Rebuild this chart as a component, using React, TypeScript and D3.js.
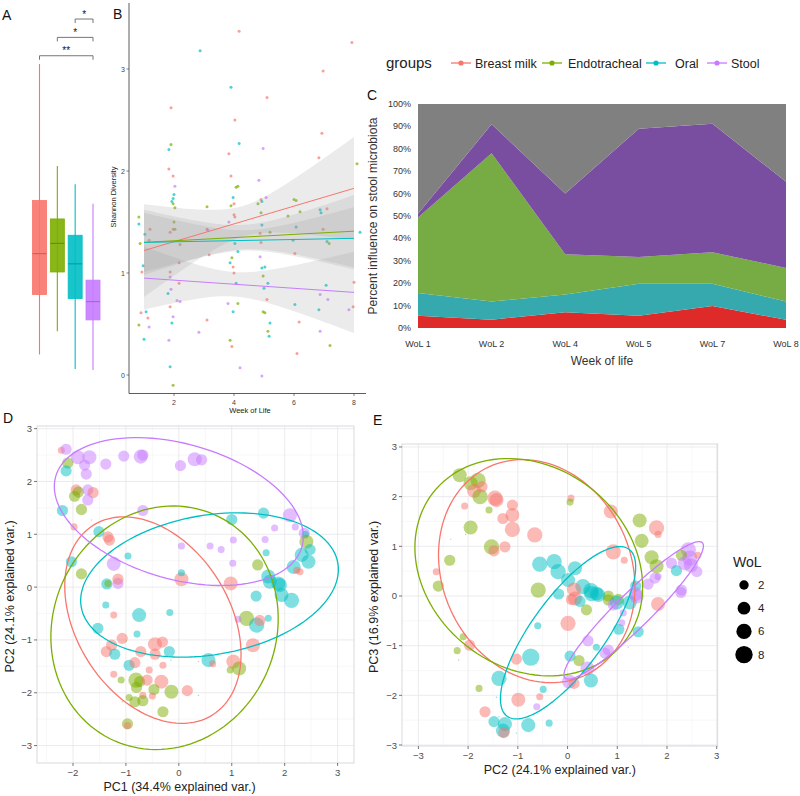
import React from 'react';
import * as d3 from 'd3';

// ---------- shared ----------
const groups = ['Breast milk', 'Endotracheal', 'Oral', 'Stool'];
const groupColors = ['#F8766D', '#7CAE00', '#00BFC4', '#C77CFF'];

// ---------- Panel A: Shannon diversity boxplots ----------
const boxLow = [0.2, 0.43, 0.06, 0.05];
const boxQ1 = [0.79, 1.01, 0.75, 0.54];
const boxMedian = [1.19, 1.29, 1.09, 0.72];
const boxQ3 = [1.71, 1.53, 1.37, 0.93];
const boxHigh = [3.05, 2.05, 1.87, 1.68];
// brackets: [fromGroup, toGroup, level, label]
const sigBrackets: [number, number, number, string][] = [
  [2, 3, 3.49, '*'],
  [1, 3, 3.31, '*'],
  [0, 3, 3.13, '**'],
];

// ---------- Panel B: Shannon diversity vs week of life ----------
// [week (jittered), shannon, group]
const shannonPoints: [number, number, number][] = [
  [0.83, 1.55, 1], [0.83, 1.48, 2], [1.2, 1.43, 0], [0.87, 1.29, 1], [1.03, 1.38, 2], [1.17, 1.32, 0],
  [0.97, 1.07, 2], [0.93, 1.01, 0], [0.9, 0.61, 0], [1.07, 0.62, 2], [1.13, 0.56, 0], [0.83, 0.49, 1],
  [1.17, 0.47, 3], [1.0, 0.35, 2],
  [1.9, 2.62, 0], [1.9, 2.26, 1], [1.83, 2.21, 2], [1.83, 2.02, 0], [1.97, 1.95, 0], [2.03, 1.85, 3],
  [2.0, 1.77, 2], [1.97, 1.73, 2], [1.93, 1.7, 2], [1.97, 1.68, 1], [2.03, 1.64, 1], [2.0, 1.5, 1],
  [1.87, 1.4, 0], [1.97, 1.43, 0], [2.17, 1.1, 0], [1.87, 1.01, 0], [1.87, 0.96, 3], [1.8, 0.8, 2],
  [1.9, 0.84, 3], [2.1, 0.73, 3], [2.2, 0.72, 3], [1.87, 0.67, 0], [1.97, 0.57, 3], [1.93, 0.51, 2],
  [1.83, 0.34, 3], [1.87, 0.08, 2], [1.97, -0.1, 1], [2.17, 0.9, 0], [2.2, 1.28, 0], [2.03, 1.43, 1],
  [2.87, 3.18, 2], [3.1, 1.43, 0], [3.17, 1.18, 0], [2.83, 0.42, 3], [3.1, 0.54, 0], [3.13, 1.42, 3], [3.1, 1.65, 1],
  [4.17, 3.37, 0], [3.9, 2.82, 2], [4.03, 2.5, 0], [4.17, 2.27, 2], [3.83, 2.17, 0], [3.9, 1.95, 0],
  [4.07, 1.84, 1], [4.13, 1.85, 1], [3.97, 1.74, 2], [4.0, 1.68, 0], [3.9, 1.66, 1], [4.0, 1.57, 0],
  [4.03, 1.55, 0], [3.83, 1.5, 3], [4.03, 1.29, 2], [4.13, 1.21, 2], [3.87, 1.1, 2], [3.93, 1.15, 1],
  [3.97, 1.06, 0], [4.0, 1.0, 0], [4.07, 0.9, 2], [3.8, 0.7, 3], [4.13, 0.7, 1], [3.97, 0.62, 2],
  [3.87, 0.34, 1], [3.93, 0.28, 0], [4.2, 0.07, 3],
  [5.1, 2.72, 0], [4.97, 2.22, 3], [4.83, 1.91, 3], [4.9, 1.72, 0], [4.93, 1.7, 2], [5.07, 1.74, 3],
  [4.8, 1.68, 1], [4.9, 1.59, 1], [4.93, 1.47, 2], [4.87, 1.39, 0], [5.2, 1.4, 1], [4.9, 1.3, 0],
  [4.87, 1.16, 3], [4.93, 1.05, 2], [5.03, 1.06, 2], [4.97, 0.97, 1], [5.13, 0.9, 2], [5.0, 0.85, 2],
  [5.1, 0.74, 0], [4.97, 0.62, 1], [5.03, 0.61, 1], [5.2, 0.51, 2], [5.13, 0.43, 1], [5.17, 0.38, 2],
  [4.93, -0.01, 3],
  [5.8, 1.56, 1], [6.0, 1.72, 1], [6.07, 1.71, 1], [6.2, 1.6, 1], [6.07, 1.45, 2], [5.97, 1.32, 2],
  [6.03, 1.19, 0], [6.03, 0.69, 2], [6.17, 0.52, 0], [6.1, 0.21, 0],
  [6.97, 2.98, 0], [6.93, 2.37, 0], [6.83, 2.13, 0], [6.87, 1.62, 2], [6.9, 1.59, 2], [7.1, 1.63, 0],
  [6.97, 1.43, 0], [7.1, 1.31, 2], [7.17, 1.29, 1], [7.07, 0.88, 2], [6.87, 0.79, 3], [7.13, 0.74, 3],
  [6.83, 0.64, 2], [6.87, 0.43, 3], [7.2, 0.29, 1],
  [7.93, 3.26, 0], [8.1, 2.07, 1], [8.2, 1.4, 2], [8.0, 0.91, 0], [7.97, 0.67, 0], [7.83, 0.64, 3],
];
// linear fits per group (value at week 1 and week 8) and CI half-width model
const fitAtWeek1 = [1.22, 1.3, 1.3, 0.95];
const fitAtWeek8 = [1.83, 1.41, 1.34, 0.81];
const ciMinHalf = [0.15, 0.12, 0.1, 0.12];
const ciSlope = [0.13, 0.09, 0.08, 0.095];
const ciCenter = [4.3, 4.3, 4.4, 4.0];
const shannonTicks = [0, 1, 2, 3];
const weekTicks = [2, 4, 6, 8];

// ---------- Panel C: source influence on stool microbiota ----------
const wolCategories = ['WoL 1', 'WoL 2', 'WoL 4', 'WoL 5', 'WoL 7', 'WoL 8'];
const breastMilkShare = [5.5, 3.7, 7.0, 5.5, 9.8, 3.7];
const oralShare = [10.1, 8.1, 7.9, 14.3, 10.0, 8.1];
const endotrachealShare = [33.7, 66.2, 18.0, 11.9, 14.0, 15.0];
const stoolShare = [1.7, 13.0, 27.1, 57.3, 57.4, 38.5];
const unknownShare = [49.0, 9.0, 40.0, 11.0, 8.8, 34.7];
const areaKeys = ['breast', 'oral', 'endo', 'stool', 'unknown'];
const areaColors = ['#df2a2a', '#36a9ae', '#77ab43', '#794ea0', '#808080'];
const percentTicks = d3.range(0, 101, 10);

// ---------- Panel D: PC1 vs PC2 ----------
// [PC1, PC2, WoL, group]
const pcaD: [number, number, number, number][] = [
  [-2.22, 2.59, 1, 0], [-2.13, 2.61, 3, 3], [-2.1, 2.35, 3, 1], [-2.13, 2.2, 3, 2], [-1.91, 2.46, 5, 3],
  [-1.69, 2.46, 5, 3], [-1.78, 2.31, 3, 3], [-1.75, 2.14, 3, 3], [-1.38, 2.33, 3, 3], [-1.04, 2.48, 3, 3],
  [-0.72, 2.47, 5, 3], [-0.68, 2.5, 3, 3], [0.03, 2.3, 3, 3], [0.3, 2.42, 5, 3], [0.43, 2.41, 3, 3],
  [-1.94, 1.84, 3, 0], [-1.9, 1.8, 3, 1], [-1.97, 1.72, 3, 1], [-1.72, 1.84, 3, 3], [-1.62, 1.79, 3, 0],
  [-1.72, 1.65, 3, 3], [-1.84, 1.47, 3, 1], [-2.2, 1.45, 3, 2], [-1.65, 1.27, 0, 3], [-1.98, 1.14, 1, 0],
  [-1.51, 1.05, 3, 2], [-1.34, 0.95, 3, 0], [-1.31, 0.89, 3, 0], [-0.68, 1.45, 3, 3], [-0.96, 0.59, 1, 2],
  [-2.03, 0.48, 3, 2], [-1.23, 0.44, 5, 3], [-1.84, 0.25, 3, 1], [-1.36, 0.06, 3, 2], [-1.34, 0.07, 1, 1],
  [-1.15, 0.07, 3, 3], [-1.15, 0.15, 3, 0], [0.05, 0.15, 5, 0], [0.05, 0.27, 1, 2], [0.05, 0.78, 1, 3],
  [0.59, 0.78, 1, 3], [0.8, 0.71, 1, 3], [1.0, 1.28, 3, 2], [1.03, 0.89, 1, 3], [1.02, 0.45, 1, 3],
  [0.98, 0.07, 5, 0], [1.49, 0.42, 3, 1], [1.6, 1.4, 3, 2], [1.63, 0.9, 1, 3], [1.65, 0.65, 1, 2],
  [1.81, 1.12, 1, 3], [1.69, 0.2, 5, 2], [2.1, 1.36, 5, 3], [2.2, 1.14, 1, 3], [2.37, 1.02, 3, 3],
  [2.39, 1.0, 1, 2], [2.41, 0.86, 5, 1], [2.48, 0.71, 3, 2], [2.32, 0.61, 5, 2], [2.45, 0.48, 5, 2],
  [2.17, 0.38, 5, 2], [2.29, 0.29, 1, 0], [2.23, 0.32, 1, 0], [1.88, 0.07, 5, 2], [1.72, 0.1, 5, 2],
  [1.91, 0.04, 5, 2], [1.94, -0.15, 5, 2], [2.13, -0.25, 6, 2], [1.46, -0.17, 3, 2], [-1.38, -0.34, 1, 2],
  [-1.23, -0.53, 1, 0], [-0.75, -0.53, 5, 2], [-0.17, -0.48, 1, 2], [1.28, -0.59, 6, 1], [1.12, -0.61, 1, 3],
  [1.47, -0.72, 6, 2], [1.53, -0.63, 3, 0], [1.69, -0.59, 1, 2], [-1.53, -0.78, 3, 2], [-0.79, -0.89, 1, 2],
  [-1.07, -0.97, 3, 0], [-0.45, -1.08, 5, 0], [-0.31, -1.04, 3, 0], [1.4, -1.1, 5, 0], [-1.27, -1.1, 3, 0],
  [-1.37, -1.22, 3, 0], [-1.21, -1.27, 3, 2], [-0.72, -1.22, 3, 0], [-0.45, -1.27, 3, 0], [-0.18, -1.22, 3, 2],
  [-0.99, -1.02, 0, 1], [-0.64, -1.27, 0, 1], [-0.15, -1.38, 0, 2], [-0.94, -1.48, 3, 2], [-0.83, -1.43, 3, 0],
  [-0.3, -1.48, 1, 0], [0.37, -1.41, 0, 2], [0.56, -1.38, 5, 2], [0.64, -1.45, 1, 0], [1.03, -1.41, 5, 0],
  [0.97, -1.57, 1, 1], [1.14, -1.54, 5, 1], [-0.56, -1.57, 1, 0], [-1.23, -1.65, 1, 0], [-1.09, -1.76, 1, 1],
  [-0.81, -1.76, 6, 1], [-0.74, -1.79, 3, 1], [-0.6, -1.76, 3, 0], [-0.33, -1.79, 5, 0], [-0.8, -1.9, 3, 1],
  [-0.47, -1.94, 3, 1], [-0.14, -1.98, 5, 1], [0.16, -1.96, 3, 0], [-0.68, -2.05, 1, 0], [0.37, -2.05, 0, 1],
  [-0.94, -2.09, 1, 1], [-0.83, -2.17, 3, 1], [-0.68, -2.15, 3, 1], [-0.5, -2.06, 1, 0], [-1.07, -2.17, 0, 1],
  [-0.3, -2.36, 3, 1], [-0.75, -2.33, 0, 0], [-0.97, -2.59, 3, 1], [-0.97, -2.62, 1, 0],
];
// ellipses: [cx, cy, semiMajor, semiMinor, angleDeg] per group
const ellipsesD: [number, number, number, number, number][] = [
  [-0.49, -0.625, 2.12, 1.45, -58],
  [-0.27, -0.77, 2.34, 2.11, 66.6],
  [0.58, 0.04, 2.46, 1.32, 9.7],
  [0.0, 1.43, 2.42, 1.28, -16],
];
const pc1Ticks = [-2, -1, 0, 1, 2, 3];
const pc2TicksD = [-3, -2, -1, 0, 1, 2, 3];

// ---------- Panel E: PC2 vs PC3 ----------
const pcaE: [number, number, number, number][] = [
  [-2.17, 2.43, 5, 1], [-1.95, 2.27, 5, 1], [-1.8, 2.33, 6, 1], [-1.88, 2.12, 5, 0], [-1.76, 2.0, 6, 1],
  [-1.72, 2.2, 3, 0], [-1.46, 1.97, 6, 0], [-1.43, 1.93, 5, 0], [-2.07, 1.81, 1, 0], [-1.58, 1.73, 1, 1],
  [-1.11, 1.83, 3, 0], [-1.11, 1.63, 5, 0], [-1.3, 1.56, 3, 0], [-1.95, 1.38, 5, 1], [-1.11, 1.34, 6, 0],
  [-0.66, 1.23, 6, 0], [-2.35, 1.14, 0, 0], [-2.05, 1.24, 0, 1], [-1.53, 0.99, 6, 1], [-1.48, 0.91, 3, 0],
  [-1.26, 0.99, 3, 0], [-2.37, 0.72, 3, 1], [-2.64, 0.49, 1, 0], [-2.6, 0.2, 3, 1], [0.07, 1.97, 1, 0],
  [0.05, 1.89, 1, 1], [0.87, 1.7, 5, 0], [1.45, 1.52, 5, 1], [1.79, 1.37, 6, 0], [1.82, 1.24, 1, 0],
  [1.49, 1.11, 5, 1], [0.92, 0.89, 6, 0], [1.14, 0.72, 1, 0], [1.69, 0.78, 5, 1], [1.79, 0.6, 5, 1],
  [-0.56, 0.64, 6, 2], [-0.27, 0.69, 6, 2], [-0.19, 0.49, 6, 2], [0.15, 0.56, 5, 2], [0.01, 0.32, 5, 2],
  [-0.59, 0.12, 6, 1], [-0.18, 0.04, 3, 2], [0.31, 0.19, 6, 2], [0.47, 0.11, 6, 2], [0.58, 0.05, 5, 2],
  [0.13, 0.13, 5, 0], [0.82, 0.0, 3, 1], [1.02, -0.07, 3, 1], [1.37, 0.2, 3, 2], [1.37, 0.04, 5, 3],
  [1.62, 0.24, 3, 3], [1.76, 0.36, 3, 3], [1.82, 0.39, 1, 3], [2.09, 0.66, 3, 3], [2.19, 0.51, 3, 2],
  [2.29, 0.12, 3, 3], [2.43, 0.93, 6, 3], [2.46, 0.76, 6, 3], [2.48, 0.62, 5, 3], [2.6, 0.49, 3, 3],
  [2.29, 0.82, 3, 1], [2.62, 0.82, 1, 0], [2.36, 0.66, 5, 3], [0.15, -0.05, 5, 0], [0.25, -0.11, 3, 2],
  [0.38, -0.28, 3, 1], [0.08, -0.07, 3, 0], [0.48, 0.05, 6, 2], [0.62, 0.02, 5, 2], [0.82, -0.08, 3, 1],
  [0.99, -0.13, 5, 2], [0.92, -0.18, 3, 3], [1.12, -0.34, 1, 3], [1.25, -0.13, 5, 2], [1.39, -0.01, 5, 3],
  [1.82, -0.16, 5, 0], [2.28, 0.07, 3, 3], [0.01, -0.55, 6, 0], [-0.6, -0.6, 1, 2], [1.03, -0.67, 3, 2],
  [1.09, -0.54, 1, 3], [1.42, -0.72, 3, 2], [0.41, -0.9, 3, 3], [0.58, -1.03, 1, 2], [1.22, -1.03, 0, 3],
  [0.75, -1.15, 3, 3], [0.82, -1.09, 3, 3], [-0.74, -1.23, 8, 2], [-1.03, -1.27, 3, 0], [0.05, -1.21, 3, 2],
  [0.23, -1.3, 3, 1], [0.4, -1.46, 5, 3], [0.03, -1.72, 5, 3], [0.13, -1.76, 3, 0], [0.47, -1.7, 5, 2],
  [-1.38, -1.66, 6, 2], [-1.97, -0.99, 3, 0], [-2.1, -0.82, 1, 1], [-2.22, -1.1, 1, 1], [-2.19, -1.29, 0, 1],
  [-1.78, -1.86, 1, 1], [-0.49, -1.88, 1, 2], [-0.56, -2.03, 1, 0], [-0.99, -2.09, 5, 0], [-1.43, -2.04, 0, 2],
  [-0.62, -2.23, 1, 3], [-1.66, -2.33, 3, 0], [-1.48, -2.53, 3, 2], [-1.26, -2.58, 5, 2], [-1.3, -2.71, 5, 2],
  [-1.28, -2.75, 3, 0], [-0.79, -2.6, 5, 2], [-0.37, -2.56, 1, 2], [-1.03, -2.76, 0, 2], [-1.38, -2.43, 0, 2],
];
const ellipsesE: [number, number, number, number, number][] = [
  [-0.62, 0.5, 2.31, 1.9, -65.7],
  [-0.78, 0.58, 2.44, 2.02, -37.9],
  [0.01, -0.74, 2.08, 0.73, 53.9],
  [1.33, -0.29, 1.94, 0.35, 44.6],
];
const pcTicksE = [-3, -2, -1, 0, 1, 2, 3];
const wolLegend = [2, 4, 6, 8];

const FONT = "'Liberation Sans', Arial, Helvetica, sans-serif";
const fmt = (v: number) => (v < 0 ? '\u2212' + Math.abs(v) : String(v));

function ellipsePath(e: number[], xs: any, ys: any) {
  const [cx, cy, a, b, deg] = e;
  const phi = (deg * Math.PI) / 180;
  const pts = d3.range(0, 361, 3).map((t) => {
    const r = (t * Math.PI) / 180;
    const dx = a * Math.cos(r) * Math.cos(phi) - b * Math.sin(r) * Math.sin(phi);
    const dy = a * Math.cos(r) * Math.sin(phi) + b * Math.sin(r) * Math.cos(phi);
    return [xs(cx + dx), ys(cy + dy)] as [number, number];
  });
  return (d3.line()(pts) || '') + 'Z';
}

const sizeScale = d3.scaleSqrt().domain([0, 8]).range([0.7, 8.7]);

function PcaPanel({ pts, ells, xs, ys, xTicks, yTicks, xTitle, yTitle, titleX, titleY, yTitleX, labelY }: any) {
  const [x0, x1] = xs.range();
  const [y0, y1] = ys.range();
  const xd = xs.domain();
  const yd = ys.domain();
  const minorX = d3.range(Math.ceil(xd[0] * 2) / 2, xd[1], 0.5).filter((v: number) => v % 1 !== 0);
  const minorY = d3.range(Math.ceil(yd[0] * 2) / 2, yd[1], 0.5).filter((v: number) => v % 1 !== 0);
  return (
    <g>
      <rect x={x0} y={y1} width={x1 - x0} height={y0 - y1} fill="#fff" />
      {minorX.map((v: number) => (
        <line key={'mx' + v} x1={xs(v)} x2={xs(v)} y1={y1} y2={y0} stroke="#f3f3f5" strokeWidth={0.6} />
      ))}
      {minorY.map((v: number) => (
        <line key={'my' + v} x1={x0} x2={x1} y1={ys(v)} y2={ys(v)} stroke="#f3f3f5" strokeWidth={0.6} />
      ))}
      {xTicks.map((v: number) => (
        <line key={'gx' + v} x1={xs(v)} x2={xs(v)} y1={y1} y2={y0} stroke="#e6e6ea" strokeWidth={0.8} />
      ))}
      {yTicks.map((v: number) => (
        <line key={'gy' + v} x1={x0} x2={x1} y1={ys(v)} y2={ys(v)} stroke="#e6e6ea" strokeWidth={0.8} />
      ))}
      <rect x={x0} y={y1} width={x1 - x0} height={y0 - y1} fill="none" stroke="#d6d6dc" strokeWidth={0.9} />
      {pts.map((p: number[], i: number) => (
        <circle key={i} cx={xs(p[0])} cy={ys(p[1])} r={sizeScale(p[2])} fill={groupColors[p[3]]} fillOpacity={0.5} />
      ))}
      {ells.map((e: number[], i: number) => (
        <path key={'e' + i} d={ellipsePath(e, xs, ys)} fill="none" stroke={groupColors[i]} strokeWidth={1.3} />
      ))}
      {xTicks.map((v: number) => (
        <g key={'tx' + v}>
          <line x1={xs(v)} x2={xs(v)} y1={y0} y2={y0 + 3} stroke="#555" strokeWidth={0.8} />
          <text x={xs(v)} y={y0 + 13} textAnchor="middle" fontSize={9.5} fill="#4d4d4d">{fmt(v)}</text>
        </g>
      ))}
      {yTicks.map((v: number) => (
        <g key={'ty' + v}>
          <line x1={x0 - 3} x2={x0} y1={ys(v)} y2={ys(v)} stroke="#555" strokeWidth={0.8} />
          <text x={x0 - 5} y={ys(v) + 3.5} textAnchor="end" fontSize={9.5} fill="#4d4d4d">{fmt(v)}</text>
        </g>
      ))}
      <text x={(x0 + x1) / 2 + titleX} y={titleY} textAnchor="middle" fontSize={12.5} fill="#222">{xTitle}</text>
      <text transform={`translate(${yTitleX},${(y0 + y1) / 2 + labelY}) rotate(-90)`} textAnchor="middle" fontSize={12.5} fill="#222">
        {yTitle}
      </text>
    </g>
  );
}

export default function App() {
  // ----- Panel A & B scales -----
  const shannonY = d3.scaleLinear().domain([0, 3]).range([375, 69]);
  const boxX = d3.scalePoint<string>().domain(groups).range([39.5, 93]);
  const weekX = d3.scaleLinear().domain([0.5, 8.4]).range([129, 366]);
  const boxW = 14;

  // ----- Panel C -----
  const cX = d3.scalePoint<string>().domain(wolCategories).range([418, 786]);
  const cY = d3.scaleLinear().domain([0, 100]).range([328, 104]);
  const cRows = wolCategories.map((w, i) => ({
    wol: w,
    breast: breastMilkShare[i],
    oral: oralShare[i],
    endo: endotrachealShare[i],
    stool: stoolShare[i],
    unknown: unknownShare[i],
  }));
  const stacked = d3.stack<any>().keys(areaKeys)(cRows);
  const cArea = d3
    .area<any>()
    .x((d: any) => cX(d.data.wol) as number)
    .y0((d: any) => cY(d[0]))
    .y1((d: any) => cY(d[1]));

  // ----- Panel B fits -----
  const fitWeeks = d3.range(1, 8.001, 0.1);
  const fitVal = (g: number, w: number) => fitAtWeek1[g] + ((fitAtWeek8[g] - fitAtWeek1[g]) * (w - 1)) / 7;
  const halfW = (g: number, w: number) => Math.sqrt(ciMinHalf[g] ** 2 + (ciSlope[g] * (w - ciCenter[g])) ** 2);
  const band = d3.area<number>().x((w) => weekX(w));

  // ----- Panel D / E scales -----
  const dX = d3.scaleLinear().domain([-2.68, 3.31]).range([37, 354]);
  const dY = d3.scaleLinear().domain([-3.33, 3.05]).range([763, 426]);
  const eX = d3.scaleLinear().domain([-3.33, 3.02]).range([402, 717.7]);
  const eY = d3.scaleLinear().domain([-3.02, 3.06]).range([746, 444]);

  const legendItems = [
    { x: 451, tx: 475 },
    { x: 542, tx: 568 },
    { x: 646, tx: 675 },
    { x: 707, tx: 731 },
  ];

  return (
    <svg
      width={800}
      height={796}
      style={{ position: 'absolute', left: 0, top: 0, background: '#fff' }}
      fontFamily={FONT}
    >
      <rect x={0} y={0} width={800} height={796} fill="#fff" />

      {/* ================= Panel A ================= */}
      <text x={2} y={20} fontSize={14} fill="#111">A</text>
      {groups.map((g, i) => {
        const cx = boxX(g) as number;
        const c = groupColors[i];
        return (
          <g key={g}>
            <line x1={cx} x2={cx} y1={shannonY(boxHigh[i])} y2={shannonY(boxLow[i])} stroke={c} strokeWidth={1.1} />
            <rect
              x={cx - boxW / 2}
              y={shannonY(boxQ3[i])}
              width={boxW}
              height={shannonY(boxQ1[i]) - shannonY(boxQ3[i])}
              fill={c}
              fillOpacity={0.9}
              stroke={c}
              strokeWidth={0.8}
            />
            <line
              x1={cx - boxW / 2}
              x2={cx + boxW / 2}
              y1={shannonY(boxMedian[i])}
              y2={shannonY(boxMedian[i])}
              stroke={d3.color(c)!.darker(0.5).toString()}
              strokeWidth={1.2}
            />
          </g>
        );
      })}
      {sigBrackets.map(([a, b, lvl, lab], i) => {
        const xa = boxX(groups[a]) as number;
        const xb = boxX(groups[b]) as number;
        const y = shannonY(lvl);
        return (
          <g key={'sig' + i}>
            <path d={`M${xa},${y + 4}V${y}H${xb}V${y + 4}`} fill="none" stroke="#666" strokeWidth={0.9} />
            <text x={(xa + xb) / 2} y={y - 1.5} textAnchor="middle" fontSize={10} fill="#111">{lab}</text>
          </g>
        );
      })}

      {/* ================= Panel B ================= */}
      <text x={113} y={19} fontSize={14} fill="#111">B</text>
      {shannonPoints.map((p, i) => (
        <circle key={'bp' + i} cx={weekX(p[0])} cy={shannonY(p[1])} r={1.5} fill={groupColors[p[2]]} fillOpacity={0.7} />
      ))}
      {groups.map((g, gi) => (
        <path
          key={'band' + g}
          d={
            band
              .y0((w) => shannonY(fitVal(gi, w) - halfW(gi, w)))
              .y1((w) => shannonY(fitVal(gi, w) + halfW(gi, w)))(fitWeeks) || ''
          }
          fill="#999"
          fillOpacity={0.2}
        />
      ))}
      {groups.map((g, gi) => (
        <line
          key={'fit' + g}
          x1={weekX(1)}
          x2={weekX(8)}
          y1={shannonY(fitVal(gi, 1))}
          y2={shannonY(fitVal(gi, 8))}
          stroke={groupColors[gi]}
          strokeWidth={1}
        />
      ))}
      <line x1={weekX(0.5)} x2={weekX(0.5)} y1={3} y2={393.5} stroke="#333" strokeWidth={0.8} />
      <line x1={weekX(0.5)} x2={weekX(8.4)} y1={393.5} y2={393.5} stroke="#333" strokeWidth={0.8} />
      {shannonTicks.map((v) => (
        <g key={'sy' + v}>
          <line x1={weekX(0.5) - 2.5} x2={weekX(0.5)} y1={shannonY(v)} y2={shannonY(v)} stroke="#333" strokeWidth={0.6} />
          <text x={weekX(0.5) - 4} y={shannonY(v) + 2.5} textAnchor="end" fontSize={7} fill="#444">{v}</text>
        </g>
      ))}
      {weekTicks.map((v) => (
        <g key={'sx' + v}>
          <line x1={weekX(v)} x2={weekX(v)} y1={393.5} y2={396} stroke="#333" strokeWidth={0.6} />
          <text x={weekX(v)} y={404.5} textAnchor="middle" fontSize={7} fill="#444">{v}</text>
        </g>
      ))}
      <text x={250} y={413} textAnchor="middle" fontSize={7.5} fill="#222">Week of Life</text>
      <text transform="translate(116,197) rotate(-90)" textAnchor="middle" fontSize={7.5} fill="#222">Shannon Diversity</text>

      {/* ================= Legend (groups) ================= */}
      <text x={386} y={68} fontSize={15} fill="#222">groups</text>
      {legendItems.map((it, i) => (
        <g key={'lg' + i}>
          <line x1={it.x} x2={it.x + 20} y1={63} y2={63} stroke={groupColors[i]} strokeWidth={1.3} />
          <circle cx={it.x + 10} cy={63} r={2.6} fill={groupColors[i]} />
          <text x={it.tx} y={67.5} fontSize={12.5} fill="#222">{groups[i]}</text>
        </g>
      ))}

      {/* ================= Panel C ================= */}
      <text x={367} y={100} fontSize={14} fill="#111">C</text>
      {stacked.map((s, i) => (
        <path key={'ar' + i} d={cArea(s as any) || ''} fill={areaColors[i]} />
      ))}
      {percentTicks.map((v) => (
        <text key={'pt' + v} x={411} y={cY(v) + 3} textAnchor="end" fontSize={9} fill="#333">{v + '%'}</text>
      ))}
      {wolCategories.map((w) => (
        <text key={'wc' + w} x={cX(w) as number} y={347} textAnchor="middle" fontSize={9} fill="#333">{w}</text>
      ))}
      <text x={602} y={365} textAnchor="middle" fontSize={12} fill="#333">Week of life</text>
      <text transform="translate(377,216) rotate(-90)" textAnchor="middle" fontSize={12} fill="#333">
        Percent influence on stool microbiota
      </text>

      {/* ================= Panel D ================= */}
      <text x={3} y={423} fontSize={14} fill="#111">D</text>
      <PcaPanel
        pts={pcaD}
        ells={ellipsesD}
        xs={dX}
        ys={dY}
        xTicks={pc1Ticks}
        yTicks={pc2TicksD}
        xTitle="PC1 (34.4% explained var.)"
        yTitle="PC2 (24.1% explained var.)"
        titleX={-16}
        titleY={791}
        yTitleX={14}
        labelY={2}
      />

      {/* ================= Panel E ================= */}
      <text x={373} y={425} fontSize={14} fill="#111">E</text>
      <PcaPanel
        pts={pcaE}
        ells={ellipsesE}
        xs={eX}
        ys={eY}
        xTicks={pcTicksE}
        yTicks={pcTicksE}
        xTitle="PC2 (24.1% explained var.)"
        yTitle="PC3 (16.9% explained var.)"
        titleX={0}
        titleY={774}
        yTitleX={378}
        labelY={2}
      />

      {/* WoL size legend */}
      <text x={733} y={567} fontSize={14} fill="#222">WoL</text>
      {wolLegend.map((w, i) => (
        <g key={'wl' + w}>
          <circle cx={744} cy={585 + i * 23.2} r={sizeScale(w)} fill="#000" />
          <text x={758} y={585 + i * 23.2 + 4} fontSize={11.5} fill="#222">{w}</text>
        </g>
      ))}
    </svg>
  );
}
